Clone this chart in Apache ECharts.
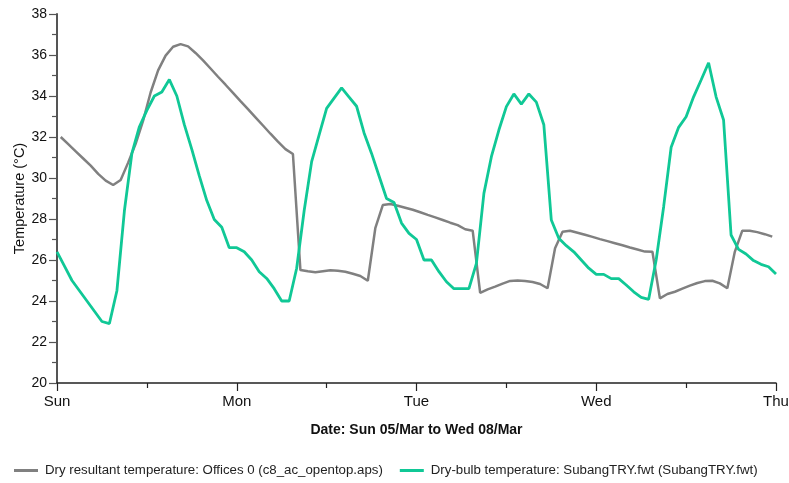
<!DOCTYPE html>
<html>
<head>
<meta charset="utf-8">
<script src="https://cdn.jsdelivr.net/npm/echarts@6/dist/echarts.min.js"></script>
<style>
  html, body { margin: 0; padding: 0; background: #fff; }
  #chart { width: 789px; height: 483px; }
</style>
</head>
<body>
<div id="chart"></div>
<script>
// Day labels for the hourly time axis (0 h = Sun 00:00)
const dayLabels = ['Sun', 'Mon', 'Tue', 'Wed', 'Thu'];

// Dry-bulb temperature from the weather file, hourly on the hour (h = 0..96)
const dryBulbSun = [26.4, 25.7, 25.0, 24.5, 24.0, 23.5, 23.0, 22.9, 24.5, 28.4, 31.2, 32.5,
                    33.3, 34.0, 34.2, 34.8, 34.0, 32.6, 31.4, 30.1, 28.9, 27.98, 27.6, 26.6];
const dryBulbMon = [26.6, 26.4, 26.0, 25.43, 25.1, 24.6, 24.0, 24.0, 25.6, 28.4, 30.8, 32.1,
                    33.4, 33.9, 34.4, 33.95, 33.5, 32.2, 31.2, 30.1, 29.0, 28.8, 27.8, 27.3];
const dryBulbTue = [27.0, 26.0, 26.0, 25.43, 24.94, 24.6, 24.6, 24.6, 25.84, 29.25, 31.04, 32.34,
                    33.48, 34.1, 33.6, 34.1, 33.7, 32.6, 27.95, 27.06, 26.7, 26.4, 26.0, 25.6];
const dryBulbWed = [25.3, 25.3, 25.09, 25.09, 24.78, 24.45, 24.18, 24.08, 26.0, 28.6, 31.5, 32.47,
                    32.99, 33.96, 34.78, 35.62, 33.96, 32.83, 27.22, 26.52, 26.29, 25.97, 25.79, 25.67, 25.32];

// Dry resultant temperature of the office zone, hourly averages plotted at half past (t = 0.5..95.5)
const resultantSun = [32.0, 31.65, 31.3, 30.95, 30.6, 30.2, 29.87, 29.66, 29.9, 30.75, 31.67, 32.8,
                      34.17, 35.25, 35.97, 36.4, 36.53, 36.42, 36.1, 35.74, 35.34, 34.94, 34.55, 34.15];
const resultantMon = [33.75, 33.36, 32.96, 32.56, 32.16, 31.77, 31.41, 31.17, 25.51, 25.45, 25.4, 25.45,
                      25.5, 25.48, 25.43, 25.33, 25.22, 24.99, 27.55, 28.68, 28.73, 28.65, 28.55, 28.45];
const resultantTue = [28.33, 28.2, 28.08, 27.95, 27.82, 27.7, 27.5, 27.43, 24.4, 24.57, 24.7, 24.85,
                      24.98, 25.0, 24.98, 24.93, 24.83, 24.62, 26.57, 27.38, 27.43, 27.33, 27.23, 27.13];
const resultantWed = [27.02, 26.92, 26.82, 26.72, 26.61, 26.51, 26.41, 26.4, 24.13, 24.34, 24.45, 24.6,
                      24.75, 24.88, 24.97, 24.99, 24.86, 24.62, 26.4, 27.43, 27.43, 27.36, 27.26, 27.14];

const seriesNames = [
  'Dry resultant temperature: Offices 0 (c8_ac_opentop.aps)',
  'Dry-bulb temperature: SubangTRY.fwt (SubangTRY.fwt)'
];

const dryBulb = [].concat(dryBulbSun, dryBulbMon, dryBulbTue, dryBulbWed);
const resultant = [].concat(resultantSun, resultantMon, resultantTue, resultantWed);

const dryBulbPts = dryBulb.map((v, i) => [i, v]);
const resultantPts = resultant.map((v, i) => [i + 0.5, v]);

const font = 'Liberation Sans, Arial, sans-serif';

const chart = echarts.init(document.getElementById('chart'), null, { renderer: 'canvas' });
chart.setOption({
  animation: false,
  backgroundColor: '#ffffff',
  grid: { left: 57, right: 13, top: 14, bottom: 100, containLabel: false, outerBoundsMode: 'none' },
  legend: {
    left: 9,
    top: 459,
    itemGap: 17,
    itemWidth: 24,
    itemHeight: 3,
    icon: 'rect',
    textStyle: { fontFamily: font, fontSize: 13.25, color: '#222', padding: [0, 0, 0, 2] },
    data: seriesNames
  },
  xAxis: {
    type: 'value',
    min: 0,
    max: 96,
    interval: 24,
    name: 'Date: Sun 05/Mar to Wed 08/Mar',
    nameLocation: 'middle',
    nameGap: 40,
    nameMoveOverlap: false,
    nameTextStyle: { fontFamily: font, fontSize: 14, fontWeight: 'bold', color: '#111' },
    axisLine: { show: true, onZero: false, lineStyle: { color: '#222', width: 1.5 } },
    axisTick: { show: true, length: 8, lineStyle: { color: '#222', width: 1.2 } },
    minorTick: { show: true, splitNumber: 2, length: 5, lineStyle: { color: '#222', width: 1.2 } },
    axisLabel: {
      margin: 11,
      fontFamily: font, fontSize: 15, color: '#111',
      formatter: v => dayLabels[Math.round(v / 24)]
    },
    splitLine: { show: false }
  },
  yAxis: {
    type: 'value',
    min: 20,
    max: 38,
    interval: 2,
    name: 'Temperature (°C)',
    nameLocation: 'middle',
    nameGap: 30,
    nameMoveOverlap: false,
    nameRotate: 90,
    nameTextStyle: { fontFamily: font, fontSize: 14.5, color: '#111' },
    axisLine: { show: true, lineStyle: { color: '#555', width: 2 } },
    axisTick: { show: true, length: 8, lineStyle: { color: '#555', width: 1.2 } },
    minorTick: { show: true, splitNumber: 2, length: 5, lineStyle: { color: '#555', width: 1.2 } },
    axisLabel: { margin: 10, fontFamily: font, fontSize: 14, color: '#111' },
    splitLine: { show: false }
  },
  series: [
    {
      name: seriesNames[0],
      type: 'line',
      data: resultantPts,
      showSymbol: false,
      color: '#808080',
      lineStyle: { color: '#808080', width: 2.5 },
      z: 2
    },
    {
      name: seriesNames[1],
      type: 'line',
      data: dryBulbPts,
      showSymbol: false,
      color: '#10c896',
      lineStyle: { color: '#10c896', width: 2.8 },
      z: 3
    }
  ]
});
</script>
</body>
</html>
